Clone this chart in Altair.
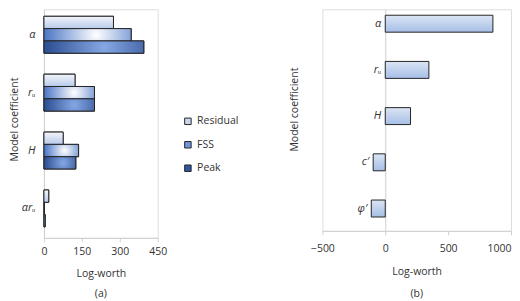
import altair as alt
import pandas as pd

# ---- data ----
coef_a = ["α", "rᵤ", "H", "αrᵤ"]
series = ["Residual", "FSS", "Peak"]
residual = [275, 123, 76, 19]
fss = [345, 200, 137, 2]
peak = [395, 200, 126, 5]
ticks_a = [0, 150, 300, 450]

coef_b = ["α", "rᵤ", "H", "c′", "φ′"]
logworth_b = [856, 347, 201, -96, -111]
ticks_b = [-500, 0, 500, 1000]

rows = []
for s, vals in zip(series, [residual, fss, peak]):
    for c, v in zip(coef_a, vals):
        rows.append({"coef": c, "series": s, "value": v})
df_a = pd.DataFrame(rows)
df_b = pd.DataFrame({"coef": coef_b, "value": logworth_b})

FONT = "Open Sans"
FS = 10.5
STROKE = "#262626"
AXC = "#cfcfcf"
TXT = "#333333"


def lin(top, bottom):
    return alt.LinearGradient(
        gradient="linear",
        stops=[alt.GradientStop(color=top, offset=0), alt.GradientStop(color=bottom, offset=1)],
        x1=0, x2=0, y1=0, y2=1,
    )


def rad(center, edge):
    return alt.RadialGradient(
        gradient="radial",
        stops=[alt.GradientStop(color=center, offset=0), alt.GradientStop(color=edge, offset=1)],
        x1=0.6, y1=0.5, r1=0, x2=0.6, y2=0.5, r2=0.65,
    )


grads = {
    "Residual": lin("#f3f6fc", "#b8caea"),
    "FSS": rad("#ffffff", "#3a69c0"),
    "Peak": rad("#86a8e4", "#23458a"),
}
solid = ["#c8d6ef", "#6f95dc", "#2f56a3"]

W_A, H_A = 114, 229
W_B, H_B = 189, 222


def xaxis(vals, lp, tp, last_right=False):
    align = "center"
    if last_right:
        align = {"condition": {"test": f"datum.value == {vals[-1]}", "value": "right"}, "value": "center"}
    return alt.Axis(
        values=vals, format="d", title="Log-worth", grid=False, domainColor=AXC, tickColor=AXC,
        tickSize=4, labelPadding=lp, labelFlush=False, labelAlign=align, labelFontSize=FS,
        labelColor=TXT, titleFontSize=FS, titleFontWeight="normal", titleColor=TXT,
        titlePadding=tp, labelFont=FONT, titleFont=FONT,
    )


def caption(t, off):
    return alt.TitleParams(t, orient="bottom", fontSize=FS, fontWeight="normal", font=FONT,
                           color=TXT, anchor="middle", frame="group", offset=off)


x_a = alt.X("value:Q", scale=alt.Scale(domain=[0, 450], nice=False), axis=xaxis(ticks_a, 5, 11))
y_a = alt.Y(
    "coef:N", sort=coef_a,
    scale=alt.Scale(paddingInner=0.362, paddingOuter=0.155, align=0.39),
    axis=alt.Axis(
        title="Model coefficient", ticks=False, domainColor=AXC, labelPadding=9,
        labelFontSize=11, labelFontStyle="italic", labelColor=TXT, labelFont=FONT,
        titleFontSize=FS, titleFontWeight="normal", titleColor=TXT, titleFont=FONT, titlePadding=2,
        titleY=110,
    ),
)
yo_a = alt.YOffset("series:N", sort=series, scale=alt.Scale(domain=series, paddingInner=0, paddingOuter=0))

base_a = alt.Chart(df_a).mark_bar(stroke=STROKE, strokeWidth=1).encode(
    x=x_a, y=y_a, yOffset=yo_a,
    color=alt.Color(
        "series:N", sort=series,
        scale=alt.Scale(domain=series, range=solid),
        legend=alt.Legend(
            orient="none", legendX=139, legendY=107, title=None, symbolType="square",
            symbolSize=42, symbolStrokeColor=STROKE, symbolStrokeWidth=1, symbolOpacity=1,
            labelFontSize=FS, labelFont=FONT, labelColor=TXT, rowPadding=12.5, labelOffset=4,
            padding=0,
        ),
    ),
)
layers = [base_a]
for s in series:
    layers.append(
        alt.Chart(df_a).transform_filter(alt.datum.series == s)
        .mark_bar(fill=grads[s], stroke=STROKE, strokeWidth=1)
        .encode(x=x_a, y=y_a, yOffset=yo_a)
    )
chart_a = alt.layer(*layers).properties(width=W_A, height=H_A, title=caption("(a)", 10))

xscale_b = alt.Scale(domain=[-500, 1000], nice=False)
xaxis_b = xaxis(ticks_b, 9, 12, last_right=True)
yaxis_b = alt.Axis(
    title="Model coefficient", ticks=False, labels=False, domainColor=AXC,
    offset=-W_B / 3, titleFontSize=FS, titleFontWeight="normal", titleColor=TXT,
    titleFont=FONT, titlePadding=86, titleY=100,
)
yscale_b = alt.Scale(paddingInner=0.633, paddingOuter=0.214, align=0.3)
bars_b = alt.Chart(df_b).mark_bar(fill=lin("#dbe5f5", "#a6bee6"), stroke=STROKE, strokeWidth=1).encode(
    x=alt.X("value:Q", scale=xscale_b, axis=xaxis_b),
    y=alt.Y("coef:N", sort=coef_b, scale=yscale_b, axis=yaxis_b),
)
labels_b = alt.Chart(df_b).transform_calculate(lx="min(datum.value, 0)").mark_text(
    align="right", baseline="middle", dx=-4, fontSize=11, fontStyle="italic", font=FONT, color=TXT
).encode(
    x=alt.X("lx:Q", scale=xscale_b, axis=xaxis_b),
    y=alt.Y("coef:N", sort=coef_b, scale=yscale_b, axis=yaxis_b),
    text="coef:N",
)
chart_b = alt.layer(bars_b, labels_b).properties(width=W_B, height=H_B, title=caption("(b)", 12))

chart = (
    alt.hconcat(chart_a, chart_b, spacing=121)
    .properties(padding={"left": 0, "top": 0, "right": 0, "bottom": 0})
    .configure_view(stroke="transparent", strokeWidth=0)
    .configure(font=FONT)
)

chart.save("out.html", embed_options={"renderer": "svg", "actions": False})
